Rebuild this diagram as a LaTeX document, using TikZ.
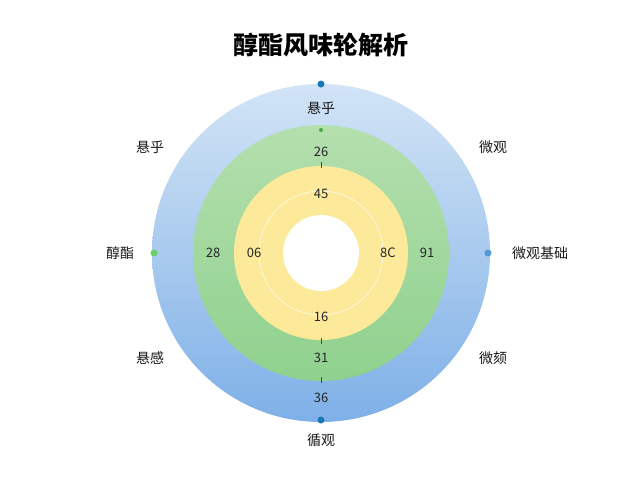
\documentclass[tikz,border=0pt]{standalone}
\usepackage{fontspec}
\setmainfont{Noto Sans CJK SC}
\usetikzlibrary{calc}
\definecolor{bA}{HTML}{D2E4F6}\definecolor{bB}{HTML}{A9CAEE}\definecolor{bC}{HTML}{7EB0E8}
\definecolor{gA}{HTML}{B4DFAE}\definecolor{gB}{HTML}{8FD18E}
\definecolor{yA}{HTML}{FCEA9A}\definecolor{yB}{HTML}{F9E285}
\begin{document}
\begin{tikzpicture}[x=1pt,y=-1pt,
 lab/.style={font=\fontsize{14}{14}\selectfont,text=black!90},
 num/.style={font=\fontsize{13}{13}\selectfont,text=black!85},
 dot/.style={circle,inner sep=0pt,minimum size=7pt}]
\useasboundingbox[fill=white] (0,0) rectangle (640,480);
\coordinate (c) at (321,253);
\node[font=\bfseries\fontsize{25}{25}\selectfont] (t) at (321,45) {醇酯风味轮解析};
\shade[top color=bA,bottom color=bB] ($(c)+(-169,0)$) arc[start angle=180,end angle=360,radius=169] -- cycle;
\shade[top color=bB,bottom color=bC] ($(c)+(-169,0)$) arc[start angle=180,end angle=0,radius=169] -- cycle;
\shade[top color=gA,bottom color=gB] (c) circle[radius=128];
\fill[yA] (c) circle[radius=87];
\draw[white,line width=0.5pt] (c) circle[radius=62];
\fill[white] (c) circle[radius=38];
\node[dot,fill=blue!40!cyan!70!black!90] (d1) at (321,84) {};
\node[dot,fill=blue!40!cyan!70!black!90] (d2) at (321,420) {};
\node[dot,fill=cyan!60!blue!70] (d3) at (488,253) {};
\node[dot,fill=green!70!black!60] (d4) at (154,253) {};
\fill[green!50!black!70] (321,130) circle[radius=2];
\foreach \y in {165,341,380} \draw[green!50!black,line width=1pt] (321,\y-3) -- (321,\y+3);
\node[lab] (l1) at (321,108) {悬乎};
\node[lab] (l2) at (150,147) {悬乎};
\node[lab] (l3) at (493,147) {微观};
\node[lab] (l4) at (120,253) {醇酯};
\node[lab] (l5) at (540,253) {微观基础};
\node[lab] (l6) at (150,358) {悬感};
\node[lab] (l7) at (493,358) {微颏};
\node[lab] (l8) at (321,440) {循观};
\node[num] (n1) at (321,152) {26};
\node[num] (n2) at (321,194) {45};
\node[num] (n3) at (213,253) {28};
\node[num] (n4) at (254,253) {06};
\node[num] (n5) at (388,253) {8C};
\node[num] (n6) at (427,253) {91};
\node[num] (n7) at (321,317) {16};
\node[num] (n8) at (321,358) {31};
\node[num] (n9) at (321,398) {36};
\end{tikzpicture}
\end{document}
